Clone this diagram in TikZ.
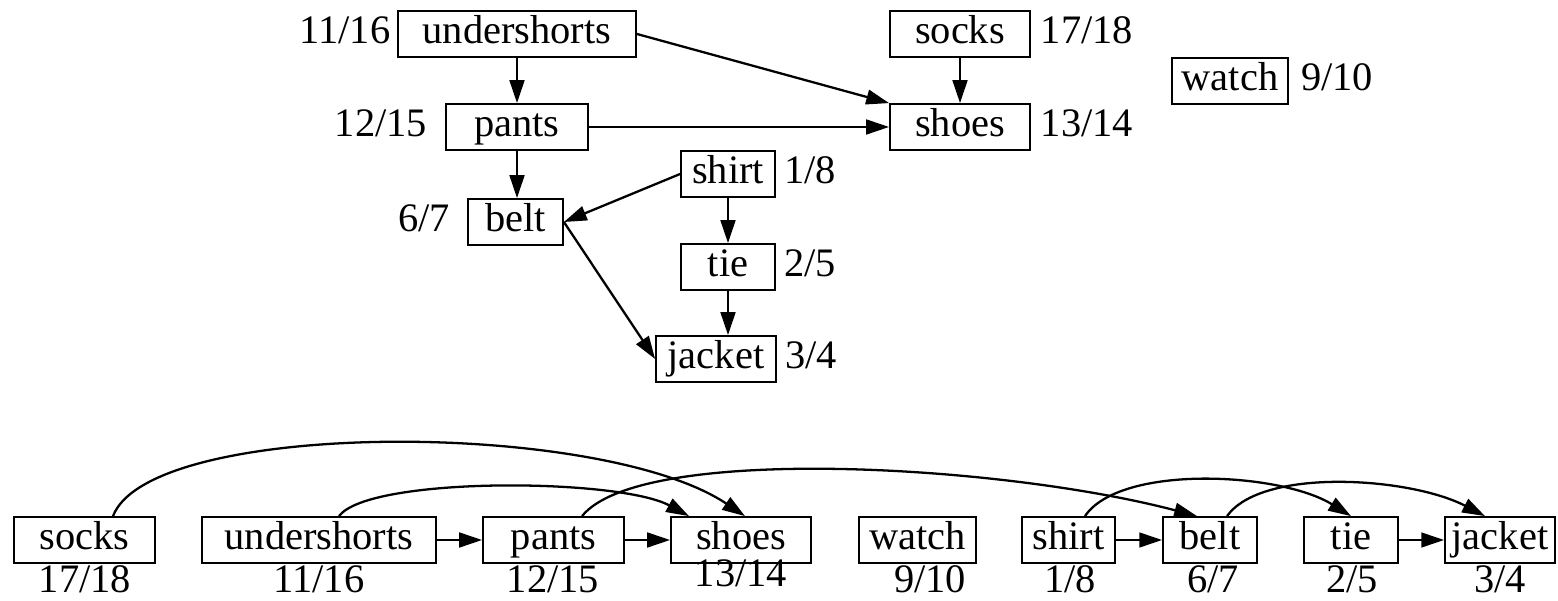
\documentclass[tikz,border=0pt]{standalone}
\usepackage{fontspec}
\setmainfont{Liberation Serif}
\usetikzlibrary{arrows.meta}
\begin{document}
\begin{tikzpicture}[x=0.01cm,y=-0.01cm,
  box/.style={draw,line width=0.5pt,minimum height=0.46cm,inner sep=0pt,text height=8pt,text depth=2.5pt,font=\fontsize{11.5}{14}\selectfont},
  lab/.style={inner sep=0pt,text height=8pt,text depth=2.5pt,font=\fontsize{11.5}{14}\selectfont},
  arr/.style={line width=0.65pt,-{Triangle[length=6.5pt,width=4.2pt]}}]
\useasboundingbox (0,0) rectangle (1558,601);
% top graph
\node[box,minimum width=2.38cm] (us) at (517,34) {undershorts};
\node[box,minimum width=1.40cm] (so) at (960,34) {socks};
\node[box,minimum width=1.16cm] (wa) at (1230,81) {watch};
\node[box,minimum width=1.42cm] (pa) at (517,127) {pants};
\node[box,minimum width=1.40cm] (sh) at (960,127) {shoes};
\node[box,minimum width=0.94cm] (si) at (728,174) {shirt};
\node[box,minimum width=0.95cm] (be) at (515.5,222) {belt};
\node[box,minimum width=0.94cm] (ti) at (728,267) {tie};
\node[box,minimum width=1.20cm] (ja) at (716,359) {jacket};
\node[lab] (l-us) at (345,34) {11/16};
\node[lab] (l-so) at (1087,34) {17/18};
\node[lab] (l-wa) at (1337,81) {9/10};
\node[lab] (l-pa) at (381,127) {12/15};
\node[lab] (l-sh) at (1087,127) {13/14};
\node[lab] (l-si) at (810,174) {1/8};
\node[lab] (l-be) at (424,222) {6/7};
\node[lab] (l-ti) at (810,267) {2/5};
\node[lab] (l-ja) at (811,359) {3/4};
\draw[arr] (us.south) -- (pa.north);
\draw[arr] (us.east) -- (sh.north west);
\draw[arr] (so.south) -- (sh.north);
\draw[arr] (pa.east) -- (sh.west);
\draw[arr] (pa.south) -- (pa.south |- be.north);
\draw[arr] (si.west) -- (be.east);
\draw[arr] (si.south) -- (ti.north);
\draw[arr] (be.east) -- (ja.west);
\draw[arr] (ti.south) -- (ti.south |- ja.north);
% bottom ordering
\node[box,minimum width=1.41cm] (bso) at (84.5,540) {socks};
\node[box,minimum width=2.34cm] (bus) at (319,540) {undershorts};
\node[box,minimum width=1.41cm] (bpa) at (553.5,540) {pants};
\node[box,minimum width=1.40cm] (bsh) at (741,540) {shoes};
\node[box,minimum width=1.17cm] (bwa) at (917.5,540) {watch};
\node[box,minimum width=0.93cm] (bsi) at (1068.5,540) {shirt};
\node[box,minimum width=0.94cm] (bbe) at (1210,540) {belt};
\node[box,minimum width=0.94cm] (bti) at (1351,540) {tie};
\node[box,minimum width=1.10cm] (bja) at (1500,540) {jacket};
\node[lab] (lb-so) at (85,583) {17/18};
\node[lab] (lb-us) at (319,583) {11/16};
\node[lab] (lb-pa) at (553,583) {12/15};
\node[lab] (lb-sh) at (741,577) {13/14};
\node[lab] (lb-wa) at (930,583) {9/10};
\node[lab] (lb-si) at (1070,583) {1/8};
\node[lab] (lb-be) at (1213,583) {6/7};
\node[lab] (lb-ti) at (1352,583) {2/5};
\node[lab] (lb-ja) at (1500,583) {3/4};
\draw[arr] (bus.east) -- (bpa.west);
\draw[arr] (bpa.east) -- (bsh.west);
\draw[arr] (bsi.east) -- (bbe.west);
\draw[arr] (bti.east) -- (bja.west);
\draw[arr] ([xshift=0.285cm]bso.north) .. controls +(37,-97) and +(-145,-97) .. ([xshift=0.04cm]bsh.north);
\draw[arr] ([xshift=0.2cm]bus.north) .. controls +(30,-40) and +(-70,-38) .. ([xshift=-0.52cm]bsh.north);
\draw[arr] ([xshift=0.285cm]bpa.north) .. controls +(58,-72) and +(-197,-52) .. ([xshift=-0.13cm]bbe.north);
\draw[arr] ([xshift=0.165cm]bsi.north) .. controls +(35,-52) and +(-71,-44) .. (bti.north);
\draw[arr] ([xshift=0.17cm]bbe.north) .. controls +(35,-49) and +(-75,-39) .. ([xshift=-0.15cm]bja.north);
\end{tikzpicture}
\end{document}
